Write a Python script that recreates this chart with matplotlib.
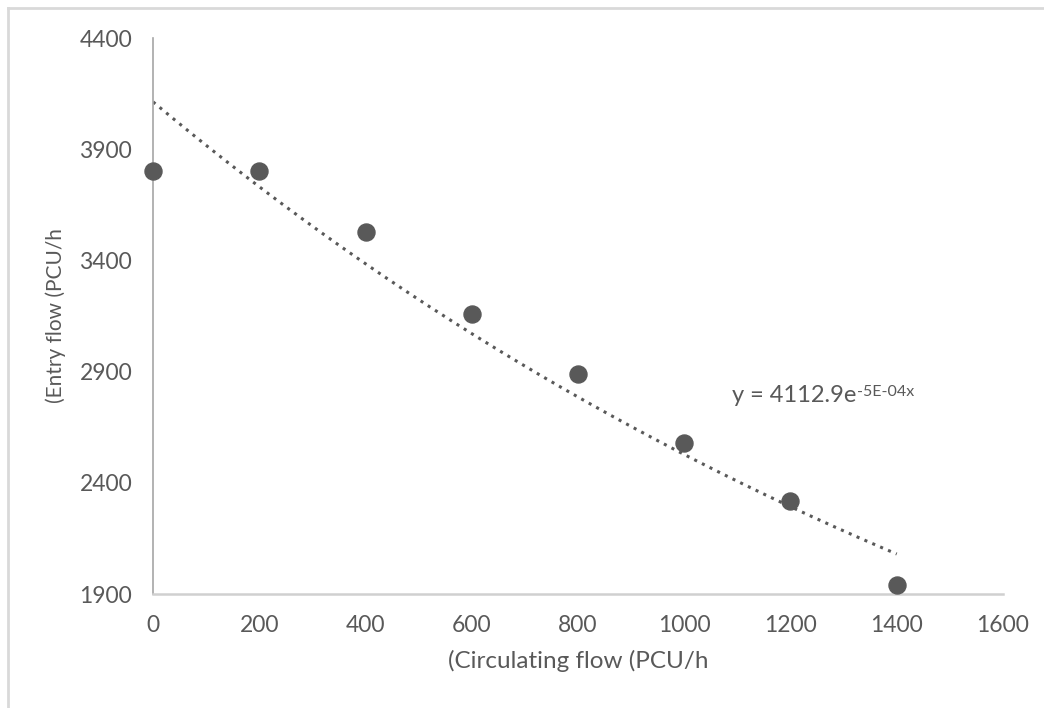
import numpy as np
import matplotlib
matplotlib.use("Agg")
import matplotlib.pyplot as plt

plt.rcParams["font.family"] = ["Lato", "DejaVu Sans"]

# circulating flow vs entry flow (PCU/h)
circ_flow = [0, 200, 400, 600, 800, 1000, 1200, 1400]
entry_flow = [3800, 3800, 3530, 3160, 2890, 2580, 2320, 1940]

# exponential trendline y = a * exp(b * x)
trend_a = 4112.9
trend_b = -4.87e-4

x_ticks = [0, 200, 400, 600, 800, 1000, 1200, 1400, 1600]
y_ticks = [1900, 2400, 2900, 3400, 3900, 4400]

text_col = "#595959"
point_col = "#595959"

fig = plt.figure(figsize=(10.44, 7.08), dpi=100)
ax = fig.add_axes([0.1466, 0.161, 0.8141, 0.7853])

ax.scatter(circ_flow, entry_flow, s=150, color=point_col, zorder=3, clip_on=False)

xs = np.linspace(circ_flow[0], circ_flow[-1], 200)
ax.plot(xs, trend_a * np.exp(trend_b * xs), linestyle=(0, (1, 1.8)),
        color=point_col, linewidth=2.2, zorder=2)

# trendline equation, exponent drawn as a raised smaller text
eq = ax.text(1090, 2762, "y = %.1fe" % trend_a, fontsize=17,
             color=text_col, va="baseline", ha="left")
ax.annotate("{:.0E}x".format(trend_b), xy=(1, 0), xycoords=eq,
            xytext=(0.5, 7.5), textcoords="offset points",
            fontsize=11.5, color=text_col, va="baseline", ha="left")

ax.set_xlim(0, 1600)
ax.set_ylim(1900, 4400)
ax.set_xticks(x_ticks)
ax.set_yticks(y_ticks)
ax.tick_params(length=0, labelsize=16.5, labelcolor=text_col)
ax.tick_params(axis="x", pad=15)
ax.tick_params(axis="y", pad=15)

for side in ["top", "right"]:
    ax.spines[side].set_visible(False)
ax.spines["left"].set_color("#a6a6a6")
ax.spines["left"].set_linewidth(1.2)
ax.spines["bottom"].set_color("#d0d0d0")
ax.spines["bottom"].set_linewidth(1.8)

ax.set_xlabel("(Circulating flow (PCU/h", fontsize=17.5, color=text_col, labelpad=10)
ax.set_ylabel("(Entry flow (PCU/h", fontsize=15, color=text_col, labelpad=10)

# light frame around the chart area (top and left edges)
fig.add_artist(plt.Line2D([8 / 1044, 1], [1 - 8 / 708, 1 - 8 / 708],
                          color="#d9d9d9", linewidth=2, transform=fig.transFigure))
fig.add_artist(plt.Line2D([8 / 1044, 8 / 1044], [0, 1 - 8 / 708],
                          color="#d9d9d9", linewidth=2, transform=fig.transFigure))

fig.savefig("out.png", dpi=100, facecolor="white")
